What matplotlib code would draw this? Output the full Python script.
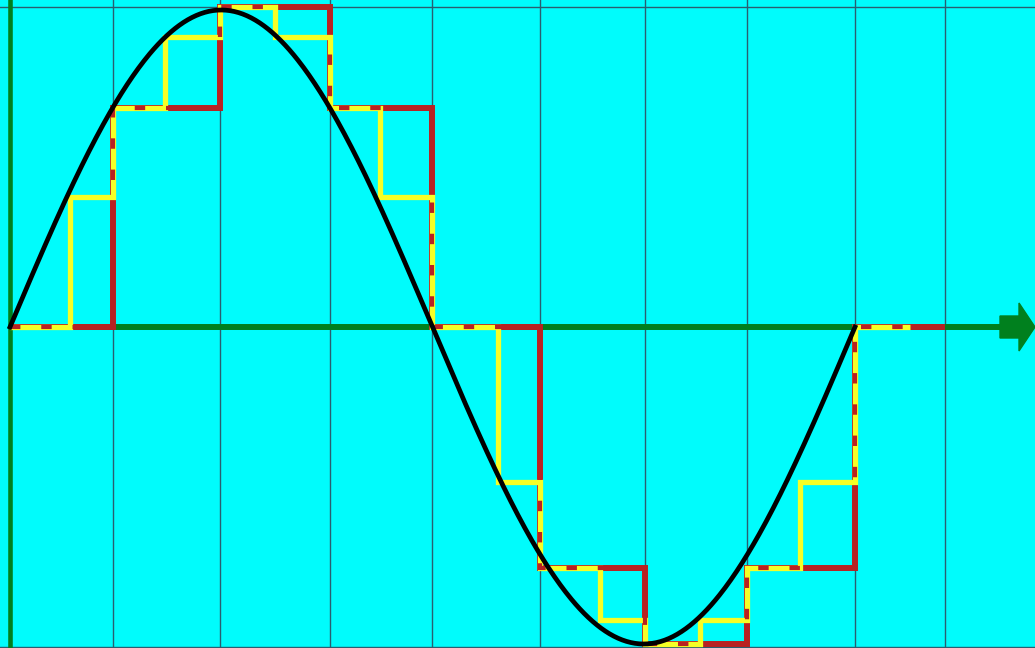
import numpy as np
import matplotlib
matplotlib.use("Agg")
import matplotlib.pyplot as plt
from matplotlib.patches import Polygon
from matplotlib.transforms import IdentityTransform

# sample instants (grid lines), x in picture units
grid_x = [113, 220, 330, 432, 540, 645, 747, 855, 945]

# coarse sample-and-hold (red)
red_edges = [10, 113, 220, 330, 432, 540, 645, 747, 855, 945]
red_levels = [0, 0.69, 1.01, 0.69, 0, -0.76, -1.0, -0.76, 0]

# fine sample-and-hold (yellow)
yellow_edges = [10, 70, 113, 165, 220, 275, 330, 380, 432, 498,
                540, 600, 645, 700, 747, 800, 855, 910]
yellow_levels = [0, 0.41, 0.69, 0.915, 1.01, 0.915, 0.69, 0.41, 0,
                 -0.49, -0.76, -0.924, -1.0, -0.924, -0.76, -0.49, 0]

# analog signal: one period of a sine
sine_start = 10
sine_period = 845
sine_amp = 1.0

W, H = 1035, 648
bg = "#00FCFC"
grid_col = "#2A5E70"
green = "#00801E"
red = "#B82222"
yellow = "#F6FF26"


def main():
    fig = plt.figure(figsize=(W / 100, H / 100), dpi=100)
    ax = fig.add_axes([0, 0, 1, 1])
    ax.set_facecolor(bg)
    fig.patch.set_facecolor(bg)
    ax.set_xlim(0, W)
    ax.set_ylim((327 - H) / 317, 327 / 317)
    ax.axis("off")

    # grid and frame lines
    for gx in grid_x:
        ax.axvline(gx, color=grid_col, lw=1.0, zorder=1)
    ax.axhline((327 - 7) / 317, color=grid_col, lw=1.0, zorder=1)
    ax.axhline((327 - 646.5) / 317, color=grid_col, lw=1.0, zorder=1)

    # axes in green
    ax.axvline(10, color=green, lw=3.3, zorder=2)
    ax.plot([10, 1002], [0, 0], color=green, lw=4.3, solid_capstyle="butt", zorder=2)
    yc = H - 327
    arrow = [(1000, yc - 11), (1019, yc - 11), (1019, yc - 24), (1035, yc),
             (1019, yc + 24), (1019, yc + 11), (1000, yc + 11)]
    ax.add_patch(Polygon(arrow, closed=True, color=green, transform=IdentityTransform(), zorder=2))

    # step signals
    ax.stairs(red_levels, red_edges, color=red, lw=4.3, baseline=None, zorder=3)
    ax.stairs(yellow_levels, yellow_edges, color=yellow, lw=3.8, baseline=None, zorder=4)
    ax.stairs(red_levels, red_edges, color=red, lw=3.0, baseline=None,
              linestyle=(0, (2.5, 5)), zorder=5)

    # analog sine
    t = np.linspace(sine_start, sine_start + sine_period, 600)
    y = sine_amp * np.sin(2 * np.pi * (t - sine_start) / sine_period)
    ax.plot(t, y, color="black", lw=3.4, zorder=6)

    fig.savefig("out.png", dpi=100, facecolor=bg)


if __name__ == "__main__":
    main()
